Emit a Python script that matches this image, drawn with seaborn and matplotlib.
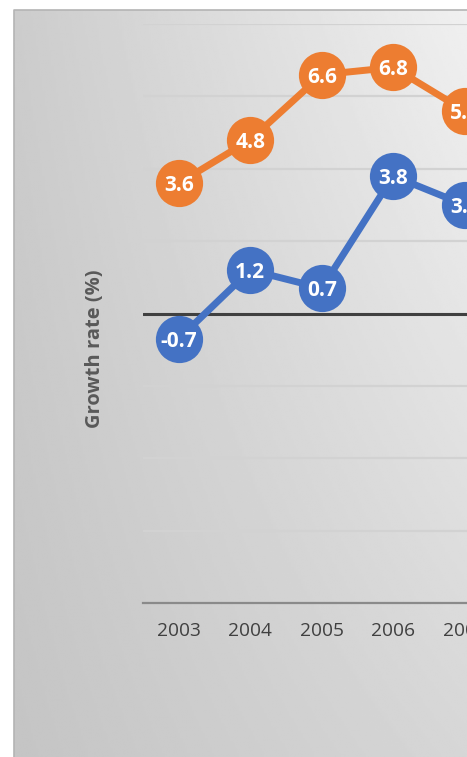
import numpy as np
import pandas as pd
import seaborn as sns
import matplotlib.pyplot as plt

# data
years = [2003, 2004, 2005, 2006, 2007]
orange_vals = [3.6, 4.8, 6.6, 6.8, 5.6]
blue_vals = [-0.7, 1.2, 0.7, 3.8, 3.0]
ytick_vals = [-8, -6, -4, -2, 0, 2, 4, 6, 8]

ORANGE = "#ED7D31"
BLUE = "#4472C4"

sns.set_style("white")
plt.rcParams['font.family'] = ['Open Sans', 'DejaVu Sans']

W, H = 467, 757
fig = plt.figure(figsize=(W / 100, H / 100), dpi=100)

# gray gradient panel (darker bottom-left, lighter top-right)
bg = fig.add_axes([14 / W, 0, (W - 14) / W, (H - 10) / H])
gx = np.linspace(0, 1, 200)
gy = np.linspace(0, 1, 300)
GX, GY = np.meshgrid(gx, gy)
shade = 0.77 + 0.07 * GX + 0.03 * GY + 0.07 * GX * GY
bg.imshow(shade, cmap="gray", vmin=0, vmax=1, origin="lower",
          aspect="auto", extent=[0, 1, 0, 1], interpolation="bilinear")
bg.set_xlim(0, 1)
bg.set_ylim(0, 1)
bg.axis("off")
bg.plot([0, 0, 1], [0, 1, 1], color="#b4b4b4", lw=1.2, clip_on=False)

# main plot area, runs past the right edge of the picture
ax = fig.add_axes([143 / W, 154 / H, 357.5 / W, 579 / H])
ax.patch.set_alpha(0)

df = pd.DataFrame({"year": years * 2,
                   "value": orange_vals + blue_vals,
                   "series": ["orange"] * len(years) + ["blue"] * len(years)})

sns.lineplot(data=df, x="year", y="value", hue="series",
             palette={"orange": ORANGE, "blue": BLUE},
             marker="o", markersize=34, markeredgewidth=0,
             lw=5, legend=False, ax=ax, zorder=3)

for x, y in zip(years, orange_vals):
    ax.text(x, y, f"{y:.1f}", ha="center", va="center_baseline",
            color="white", fontsize=15, fontweight="bold", zorder=5)
for x, y in zip(years, blue_vals):
    ax.text(x, y, f"{y:.1f}", ha="center", va="center_baseline",
            color="white", fontsize=15, fontweight="bold", zorder=5)

ax.set_xlim(2002.5, 2007.5)
ax.set_ylim(-8, 8)
ax.set_yticks(ytick_vals)
ax.set_yticklabels([])
ax.set_xticks(years)
ax.set_xticklabels([str(y) for y in years])
ax.tick_params(axis="x", length=0, pad=13.5, labelsize=13.8, labelcolor="#404040")
ax.tick_params(axis="y", length=0)
ax.grid(axis="y", color="#d2d2d2", lw=1.6, zorder=0)
ax.axhline(0, color="#404040", lw=2.2, zorder=1)
for s in ["top", "left", "right"]:
    ax.spines[s].set_visible(False)
ax.spines["bottom"].set_color("#8a8a8a")
ax.spines["bottom"].set_linewidth(1.6)
ax.set_xlabel("")
ax.set_ylabel("")

fig.text(95 / W, 1 - 349 / H, "Growth rate (%)", rotation=90,
         ha="center", va="center", fontsize=14.5, fontweight="bold",
         color="#595959")

fig.savefig("out.png", dpi=100)
